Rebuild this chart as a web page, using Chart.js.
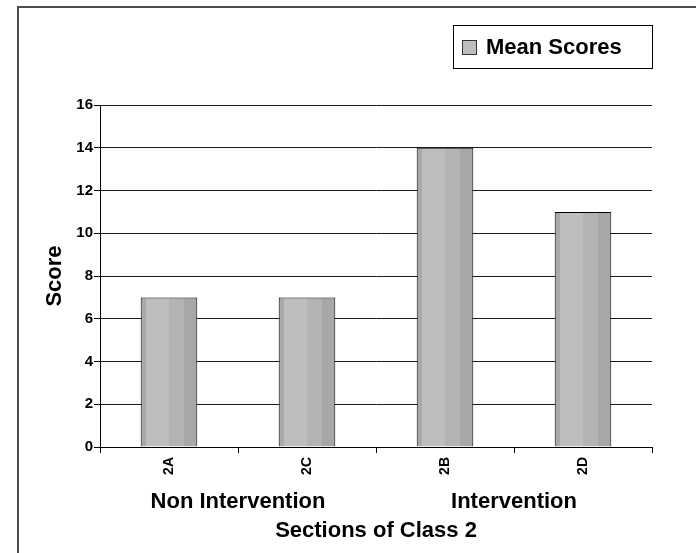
<!DOCTYPE html>
<html>
<head>
<meta charset="utf-8">
<script src="https://cdn.jsdelivr.net/npm/chart.js@4/dist/chart.umd.min.js"></script>
<style>
  html, body { margin: 0; padding: 0; background: #fff; }
  #wrap { width: 696px; height: 553px; position: relative; }
</style>
</head>
<body>
<div id="wrap"><canvas id="chart" width="696" height="553"></canvas></div>
<script>
// Sections, their mean scores and the study group each belongs to
const sections = ['2A', '2C', '2B', '2D'];
const meanScores = [7, 7, 14, 11];
const groupNames = ['Non Intervention', 'Intervention'];
const sectionGroup = [0, 0, 1, 1];

// Axis range and captions
const scoreMin = 0;
const scoreMax = 16;
const scoreStep = 2;
const seriesName = 'Mean Scores';
const xTitle = 'Sections of Class 2';
const yTitle = 'Score';

const FONT = "'Liberation Sans', Arial, Helvetica, sans-serif";
const BAR_PCT = 0.41;

Chart.defaults.font.family = FONT;
Chart.defaults.font.weight = 'bold';
Chart.defaults.color = '#000';

// Shaded column fill: narrow darker edge, light face, then two darker bands
function barFill(ctx) {
  const chart = ctx.chart;
  const xs = chart.scales && chart.scales.x;
  if (!xs || !chart.chartArea || ctx.dataIndex === undefined) return '#bdbdbd';
  const cx = xs.getPixelForValue(ctx.dataIndex);
  const w = xs.width / sections.length * BAR_PCT;
  const g = chart.ctx.createLinearGradient(cx - w / 2, 0, cx + w / 2, 0);
  g.addColorStop(0, '#a9a9a9');
  g.addColorStop(0.09, '#a9a9a9');
  g.addColorStop(0.09, '#bebebe');
  g.addColorStop(0.5, '#bebebe');
  g.addColorStop(0.5, '#b3b3b3');
  g.addColorStop(0.77, '#b3b3b3');
  g.addColorStop(0.77, '#a7a7a7');
  g.addColorStop(1, '#a7a7a7');
  return g;
}

// Outer frame of the figure
const framePlugin = {
  id: 'frame',
  beforeDraw(chart) {
    const c = chart.ctx;
    c.save();
    c.fillStyle = '#fff';
    c.fillRect(0, 0, chart.width, chart.height);
    c.strokeStyle = '#4d4d4d';
    c.lineWidth = 2;
    c.strokeRect(18, 7, chart.width + 20, chart.height + 20);
    c.restore();
  }
};

// Boxed legend in the top-right corner
const legendBoxPlugin = {
  id: 'legendBox',
  afterDraw(chart) {
    const c = chart.ctx;
    const right = chart.chartArea.right;
    const w = 199, h = 43, top = 25;
    const left = right - w;
    c.save();
    c.fillStyle = '#fff';
    c.fillRect(left, top, w, h);
    c.strokeStyle = '#000';
    c.lineWidth = 1;
    c.strokeRect(left + 0.5, top + 0.5, w, h);
    c.fillStyle = '#bdbdbd';
    c.fillRect(left + 9, top + 15, 15, 15);
    c.strokeStyle = '#333';
    c.strokeRect(left + 9.5, top + 15.5, 14, 14);
    c.fillStyle = '#000';
    c.font = 'bold 22px ' + FONT;
    c.textAlign = 'left';
    c.textBaseline = 'middle';
    c.fillText(chart.data.datasets[0].label, left + 33, top + 23);
    c.restore();
  }
};

// Group captions under the section labels
const groupLabelPlugin = {
  id: 'groupLabels',
  afterDraw(chart) {
    const c = chart.ctx;
    const xs = chart.scales.x;
    c.save();
    c.fillStyle = '#000';
    c.font = 'bold 22px ' + FONT;
    c.textAlign = 'center';
    c.textBaseline = 'middle';
    groupNames.forEach((name, g) => {
      const px = sections
        .map((s, i) => (sectionGroup[i] === g ? xs.getPixelForValue(i) : null))
        .filter(v => v !== null);
      const mid = (Math.min(...px) + Math.max(...px)) / 2;
      c.fillText(name, mid, chart.chartArea.bottom + 55);
    });
    c.restore();
  }
};

new Chart(document.getElementById('chart'), {
  type: 'bar',
  data: {
    labels: sections,
    datasets: [{
      label: seriesName,
      data: meanScores,
      backgroundColor: barFill,
      borderColor: '#000',
      borderWidth: 1,
      categoryPercentage: 1,
      barPercentage: BAR_PCT
    }]
  },
  options: {
    responsive: false,
    animation: false,
    devicePixelRatio: 1,
    layout: { padding: { top: 105, right: 44, left: 0, bottom: 0 } },
    plugins: {
      legend: { display: false },
      tooltip: { enabled: false }
    },
    scales: {
      x: {
        grid: {
          display: true,
          offset: true,
          drawOnChartArea: false,
          drawTicks: true,
          tickLength: 6,
          color: '#000',
          lineWidth: 1
        },
        border: { display: true, color: '#000', width: 1 },
        ticks: {
          minRotation: 90,
          maxRotation: 90,
          autoSkip: false,
          padding: 4,
          font: { size: 14, weight: 'bold' },
          color: '#000'
        },
        title: {
          display: true,
          text: xTitle,
          font: { size: 22, weight: 'bold' },
          color: '#000',
          padding: { top: 0, bottom: 9 }
        },
        afterFit(scale) { scale.height = 106; }
      },
      y: {
        min: scoreMin,
        max: scoreMax,
        ticks: {
          stepSize: scoreStep,
          padding: 1,
          font: { size: 15, weight: 'bold' },
          color: '#000'
        },
        grid: {
          color: '#1a1a1a',
          lineWidth: 1,
          tickLength: 6,
          tickColor: '#000'
        },
        border: { display: true, color: '#000', width: 1 },
        title: {
          display: true,
          text: yTitle,
          font: { size: 22, weight: 'bold' },
          color: '#000',
          padding: { top: 42, bottom: 0 }
        },
        afterFit(scale) { scale.width = 100; }
      }
    }
  },
  plugins: [framePlugin, legendBoxPlugin, groupLabelPlugin]
});
</script>
</body>
</html>
